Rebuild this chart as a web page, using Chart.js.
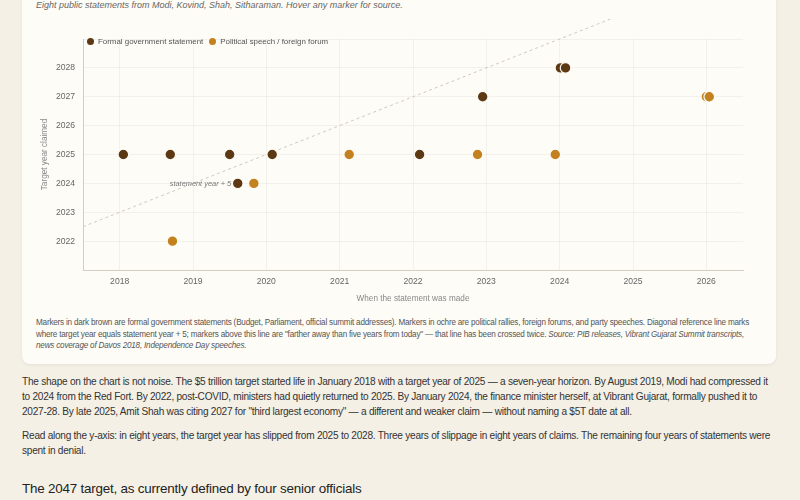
<!DOCTYPE html>
<html>
<head>
<meta charset="utf-8">
<script src="https://cdn.jsdelivr.net/npm/chart.js@4.4.1/dist/chart.umd.min.js"></script>
<style>
  html, body { margin: 0; padding: 0; background: #f4f0e6; overflow: hidden; }
  body { width: 800px; height: 500px; font-family: "Liberation Sans", Arial, sans-serif; }
  .wrap { padding: 0 24px 0 22px; }
  .card {
    background: #fdfcf7;
    border-radius: 8px;
    box-shadow: 0 1px 3px rgba(60, 50, 20, 0.08);
    margin-top: -14px;
    padding: 12px 14px 12px 14px;
  }
  .subtitle { font-style: italic; font-size: 9px; color: #666; line-height: 14px; margin: 0; }
  .chart-box { position: relative; width: 726px; height: 287px; margin-top: 7px; }
  .legend {
    position: absolute; left: 51px; top: 18px;
    font-size: 7.9px; color: #555; display: flex; gap: 6px; align-items: center;
  }
  .legend span.dot { display: inline-block; width: 7px; height: 7px; border-radius: 50%; margin-right: 4px; vertical-align: -1px; }
  .caption { font-size: 8.15px; letter-spacing: -0.2px; line-height: 11.6px; color: #555; margin: 11px 0 0 0; }
  .body-text { font-size: 10.1px; letter-spacing: -0.26px; line-height: 15.3px; color: #333; margin: 10px 0 0 0; }
  .body-text + .body-text { margin-top: 8px; }
  h3 { font-size: 13.4px; font-weight: normal; color: #222; margin: 23px 0 0 0; letter-spacing: -0.2px; }
</style>
</head>
<body>
<div class="wrap">
  <div class="card">
    <p class="subtitle">Eight public statements from Modi, Kovind, Shah, Sitharaman. Hover any marker for source.</p>
    <div class="chart-box">
      <canvas id="chart"></canvas>
      <div class="legend">
        <div><span class="dot" style="background:#5c3813"></span>Formal government statement</div>
        <div><span class="dot" style="background:#c4811f"></span>Political speech / foreign forum</div>
      </div>
    </div>
    <p class="caption">Markers in dark brown are formal government statements (Budget, Parliament, official summit addresses). Markers in ochre are political rallies, foreign forums, and party speeches. Diagonal reference line marks where target year equals statement year + 5; markers above this line are "farther away than five years from today" — that line has been crossed twice. <i>Source: PIB releases, Vibrant Gujarat Summit transcripts, news coverage of Davos 2018, Independence Day speeches.</i></p>
  </div>
  <p class="body-text">The shape on the chart is not noise. The $5 trillion target started life in January 2018 with a target year of 2025 — a seven-year horizon. By August 2019, Modi had compressed it to 2024 from the Red Fort. By 2022, post-COVID, ministers had quietly returned to 2025. By January 2024, the finance minister herself, at Vibrant Gujarat, formally pushed it to 2027-28. By late 2025, Amit Shah was citing 2027 for "third largest economy" — a different and weaker claim — without naming a $5T date at all.</p>
  <p class="body-text">Read along the y-axis: in eight years, the target year has slipped from 2025 to 2028. Three years of slippage in eight years of claims. The remaining four years of statements were spent in denial.</p>
  <h3>The 2047 target, as currently defined by four senior officials</h3>
</div>

<script>
// Statement date (decimal year) and target year claimed
const formalX = [2018.05, 2018.69, 2019.50, 2019.61, 2020.08, 2022.09, 2022.95, 2024.01, 2024.08];
const formalY = [2025, 2025, 2025, 2024, 2025, 2025, 2027, 2028, 2028];

const politicalX = [2018.72, 2019.83, 2021.13, 2022.88, 2023.94, 2026.00, 2026.04];
const politicalY = [2022, 2024, 2025, 2025, 2025, 2027, 2027];

// Reference line: target = statement year + 5
const refX = [2017.5, 2026.5];
const refY = [2022.5, 2031.5];

// Axis ticks
const xTicks = [2018, 2019, 2020, 2021, 2022, 2023, 2024, 2025, 2026];
const yTicks = [2021, 2022, 2023, 2024, 2025, 2026, 2027, 2028, 2029];
const yHidden = [2021, 2029];

const DARK = '#5c3813';
const OCHRE = '#c4811f';
const CARD_BG = '#fdfcf7';
const FONT = '"Liberation Sans", Arial, sans-serif';

function toPoints(xs, ys) {
    return xs.map((x, i) => ({ x: x, y: ys[i] }));
}

// Label next to the reference line
const refLabel = {
    id: 'refLabel',
    afterDatasetsDraw(chart) {
        const { ctx, scales } = chart;
        const px = scales.x.getPixelForValue(2019.52);
        const py = scales.y.getPixelForValue(2024);
        ctx.save();
        ctx.font = 'italic 7.4px ' + FONT;
        ctx.fillStyle = '#777';
        ctx.textAlign = 'right';
        ctx.textBaseline = 'middle';
        ctx.fillText('statement year + 5', px, py + 1);
        ctx.restore();
    }
};

const ctx = document.getElementById('chart').getContext('2d');

new Chart(ctx, {
    type: 'scatter',
    data: {
        datasets: [
            {
                label: 'statement year + 5',
                type: 'line',
                data: toPoints(refX, refY),
                borderColor: '#cfcabd',
                borderWidth: 1,
                borderDash: [3, 3],
                pointRadius: 0,
                fill: false,
                clip: false,
                order: 3
            },
            {
                label: 'Formal government statement',
                data: toPoints(formalX, formalY),
                backgroundColor: DARK,
                borderColor: CARD_BG,
                borderWidth: 1.2,
                pointRadius: 5.3,
                pointHoverRadius: 7,
                order: 1
            },
            {
                label: 'Political speech / foreign forum',
                data: toPoints(politicalX, politicalY),
                backgroundColor: OCHRE,
                borderColor: CARD_BG,
                borderWidth: 1.2,
                pointRadius: 5.3,
                pointHoverRadius: 7,
                order: 2
            }
        ]
    },
    options: {
        responsive: true,
        maintainAspectRatio: false,
        animation: false,
        layout: { padding: { top: 20, right: 19, left: 4, bottom: 0 } },
        plugins: {
            legend: { display: false },
            tooltip: { enabled: true }
        },
        scales: {
            x: {
                type: 'linear',
                min: 2017.5,
                max: 2026.5,
                afterBuildTicks: scale => { scale.ticks = xTicks.map(v => ({ value: v })); },
                grid: { color: 'rgba(0,0,0,0.045)', tickLength: 0 },
                border: { color: '#d2cec4' },
                ticks: {
                    color: '#666',
                    font: { size: 8.6, family: FONT },
                    padding: 6,
                    maxRotation: 0,
                    callback: v => String(v)
                },
                title: {
                    display: true,
                    text: 'When the statement was made',
                    color: '#888',
                    font: { size: 8.2, family: FONT },
                    padding: { top: 10, bottom: 2 }
                },
                afterFit: scale => { scale.height = 36; }
            },
            y: {
                min: 2021,
                max: 2029,
                afterBuildTicks: scale => { scale.ticks = yTicks.map(v => ({ value: v })); },
                grid: { color: 'rgba(0,0,0,0.045)', tickLength: 0 },
                border: { color: '#d2cec4' },
                ticks: {
                    color: '#666',
                    font: { size: 8.6, family: FONT },
                    padding: 8,
                    callback: v => yHidden.includes(v) ? '' : String(v)
                },
                title: {
                    display: true,
                    text: 'Target year claimed',
                    color: '#888',
                    font: { size: 8.2, family: FONT },
                    padding: { top: 0, bottom: 4 }
                },
                afterFit: scale => { scale.width = 43; }
            }
        }
    },
    plugins: [refLabel]
});
</script>
</body>
</html>
